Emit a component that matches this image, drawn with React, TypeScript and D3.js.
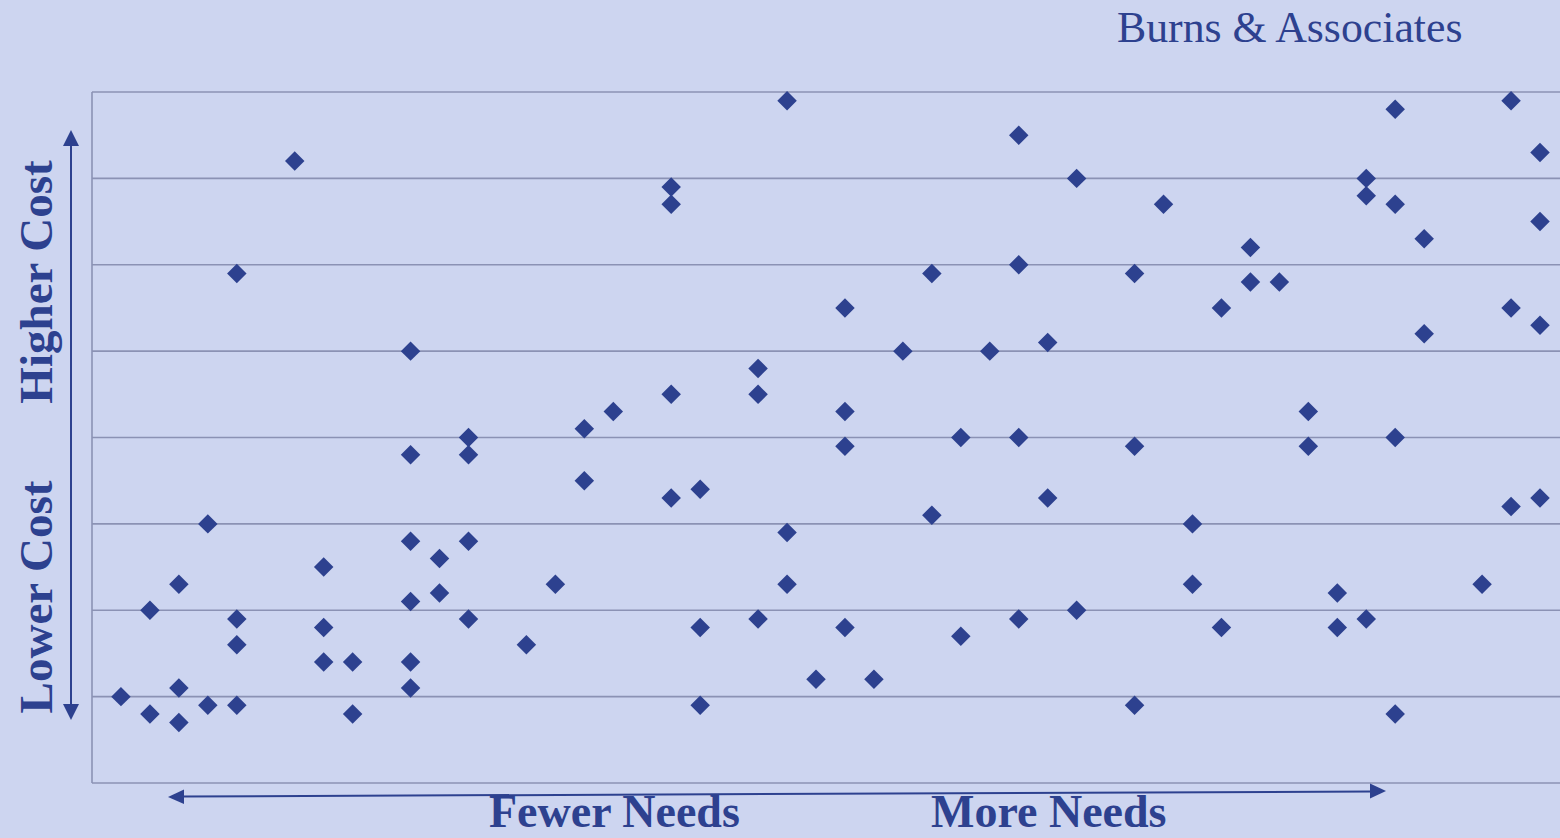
import React from "react";
import * as d3 from "d3";

// x: needs index (position along "Fewer Needs → More Needs"), y: cost level
const needsIdx: number[] = [
  1,
  2, 2,
  3, 3, 3,
  4, 4,
  5, 5, 5, 5,
  7,
  8, 8, 8,
  9, 9,
  11, 11, 11, 11, 11, 11,
  12, 12,
  13, 13, 13, 13,
  15,
  16,
  17, 17,
  18,
  20, 20, 20, 20,
  21, 21, 21,
  23, 23, 23,
  24, 24, 24,
  25,
  26, 26, 26, 26,
  27,
  28,
  29, 29,
  30, 30,
  31,
  32, 32, 32, 32,
  33, 33,
  34, 34,
  36, 36, 36,
  37,
  38, 38,
  39, 39,
  40, 40,
  41,
  42, 42,
  43, 43,
  44, 44, 44,
  45, 45, 45, 45,
  46, 46,
  48,
  49, 49, 49,
  50, 50, 50, 50,
];

const costVals: number[] = [
  1.0,
  2.0, 0.8,
  2.3, 1.1, 0.7,
  3.0, 0.9,
  5.9, 1.9, 1.6, 0.9,
  7.2,
  2.5, 1.8, 1.4,
  1.4, 0.8,
  5.0, 3.8, 2.8, 2.1, 1.4, 1.1,
  2.6, 2.2,
  4.0, 3.8, 2.8, 1.9,
  1.6,
  2.3,
  4.1, 3.5,
  4.3,
  6.9, 6.7, 4.5, 3.3,
  3.4, 1.8, 0.9,
  4.8, 4.5, 1.9,
  7.9, 2.9, 2.3,
  1.2,
  5.5, 4.3, 3.9, 1.8,
  1.2,
  5.0,
  5.9, 3.1,
  4.0, 1.7,
  5.0,
  7.5, 6.0, 4.0, 1.9,
  5.1, 3.3,
  7.0, 2.0,
  5.9, 3.9, 0.9,
  6.7,
  3.0, 2.3,
  5.5, 1.8,
  6.2, 5.8,
  5.8,
  4.3, 3.9,
  2.2, 1.8,
  7.0, 6.8, 1.9,
  7.8, 6.7, 4.0, 0.8,
  6.3, 5.2,
  2.3,
  7.9, 5.5, 3.2,
  7.3, 6.5, 5.3, 3.3,
];

const gridTicks: number[] = [0, 1, 2, 3, 4, 5, 6, 7, 8];

const title = "Burns & Associates";
const yLabelHigh = "Higher Cost";
const yLabelLow = "Lower Cost";
const xLabelFew = "Fewer Needs";
const xLabelMore = "More Needs";

const W = 1560;
const H = 838;
const BG = "#CDD5F0";
const INK = "#2D418F";
const GRID = "#8B92B4";

export default function App() {
  const x = d3.scaleLinear().domain([0, 50.69]).range([92, 1560]);
  const y = d3.scaleLinear().domain([0, 8]).range([783, 92]);
  const diamond = d3.symbol().type(d3.symbolSquare).size(190)();

  const serif = "'Liberation Serif', 'Times New Roman', serif";

  return (
    <svg
      width={W}
      height={H}
      style={{ position: "absolute", left: 0, top: 0, display: "block" }}
    >
      <rect x={0} y={0} width={W} height={H} fill={BG} />
      {/* Title */}
      <text x={1117} y={42} fill={INK} fontFamily={serif} fontSize={43.8}>
        {title}
      </text>

      {/* Gridlines */}
      {gridTicks.map((t) => (
        <line
          key={t}
          x1={x(0)}
          x2={W}
          y1={y(t)}
          y2={y(t)}
          stroke={GRID}
          strokeWidth={1.6}
        />
      ))}
      <line x1={x(0)} x2={x(0)} y1={y(8)} y2={y(0)} stroke={GRID} strokeWidth={1.6} />

      {/* Points */}
      {needsIdx.map((n, i) => (
        <path
          key={i}
          d={diamond!}
          transform={`translate(${x(n)},${y(costVals[i])}) rotate(45)`}
          fill={INK}
        />
      ))}

      {/* Vertical arrow */}
      <line x1={71} x2={71} y1={144} y2={706} stroke={INK} strokeWidth={2} />
      <path d="M71,130 L63,146 L79,146 Z" fill={INK} />
      <path d="M71,720 L63,704 L79,704 Z" fill={INK} />

      {/* Horizontal arrow */}
      <line x1={182} x2={1372} y1={796.5} y2={791.5} stroke={INK} strokeWidth={2} />
      <path d="M168,797 L184,789.5 L184,804 Z" fill={INK} />
      <path d="M1386,791 L1370,783.5 L1370,798.5 Z" fill={INK} />

      {/* Y labels */}
      <text
        transform={`translate(52,282) rotate(-90)`}
        textAnchor="middle"
        fill={INK}
        fontFamily={serif}
        fontWeight="bold"
        fontSize={47}
      >
        {yLabelHigh}
      </text>
      <text
        transform={`translate(52,597) rotate(-90)`}
        textAnchor="middle"
        fill={INK}
        fontFamily={serif}
        fontWeight="bold"
        fontSize={47}
      >
        {yLabelLow}
      </text>

      {/* X labels */}
      <text x={489} y={827} fill={INK} fontFamily={serif} fontWeight="bold" fontSize={46}>
        {xLabelFew}
      </text>
      <text x={931} y={827} fill={INK} fontFamily={serif} fontWeight="bold" fontSize={46}>
        {xLabelMore}
      </text>
    </svg>
  );
}
